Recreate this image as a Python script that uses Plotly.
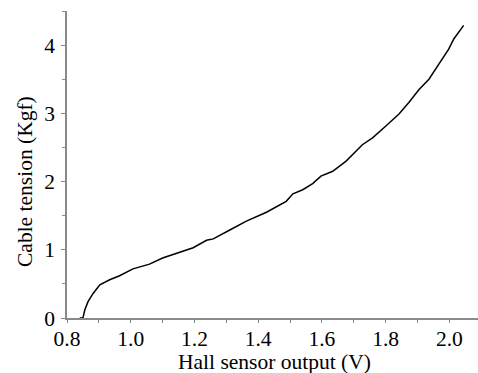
import plotly.graph_objects as go

hall_v = [0.80, 0.84, 0.85, 0.856, 0.866, 0.882, 0.903, 0.934, 0.965, 1.007, 1.059, 1.10, 1.163,
          1.196, 1.238, 1.259, 1.311, 1.363, 1.426, 1.467, 1.488, 1.509, 1.54, 1.571, 1.597,
          1.634, 1.676, 1.727, 1.759, 1.80, 1.842, 1.873, 1.905, 1.936, 1.967, 1.998, 2.014, 2.045]
tension = [0.0, 0.0, 0.0, 0.12, 0.24, 0.36, 0.485, 0.56, 0.62, 0.72, 0.79, 0.88, 0.985,
           1.03, 1.14, 1.16, 1.29, 1.42, 1.55, 1.66, 1.71, 1.82, 1.88, 1.97, 2.08,
           2.15, 2.30, 2.54, 2.64, 2.81, 2.99, 3.16, 3.35, 3.50, 3.72, 3.94, 4.09, 4.29]

x_ticks = [0.8, 1.0, 1.2, 1.4, 1.6, 1.8, 2.0]
x_labels = ["0.8", "1.0", "1.2", "1.4", "1.6", "1.8", "2.0"]
y_ticks = [0, 1, 2, 3, 4]
x_title = "Hall sensor output (V)"
y_title = "Cable tension (Kgf)"

W, H = 478, 373
fig = go.Figure(go.Scatter(x=hall_v[1:], y=tension[1:], mode="lines",
                           line=dict(color="black", width=1.5), cliponaxis=False))

font = dict(family="Liberation Serif", size=21.5, color="black")
axcol = "#8a8a8a"
fig.update_layout(
    width=W, height=H,
    margin=dict(l=67, r=0, t=11, b=55),
    paper_bgcolor="white", plot_bgcolor="white",
    showlegend=False,
    font=font,
)
fig.update_xaxes(range=[0.8, 2.09], tickvals=x_ticks, ticktext=x_labels,
                 showgrid=False, zeroline=False, showline=True, linecolor=axcol, linewidth=1.5,
                 ticks="outside", ticklen=3, tickcolor=axcol, tickwidth=1,
                 minor=dict(dtick=0.1, tick0=0.8, ticks="outside", ticklen=3, tickcolor=axcol, showgrid=False),
                 ticklabelstandoff=-3, tickfont=font)
fig.update_yaxes(range=[0, 4.5], tickvals=y_ticks,
                 showgrid=False, zeroline=False, showline=True, linecolor=axcol, linewidth=1.5,
                 ticks="outside", ticklen=4, tickcolor=axcol, tickwidth=1,
                 minor=dict(dtick=0.5, tick0=0, ticks="outside", ticklen=3, tickcolor=axcol, showgrid=False),
                 ticklabelstandoff=2, tickfont=font)

fig.add_annotation(text=x_title, xref="paper", yref="paper",
                   x=(274.5 - 67) / (W - 67), y=-(362 - 318) / (318 - 11),
                   xanchor="center", yanchor="middle", showarrow=False, font=font)
fig.add_annotation(text=y_title, xref="paper", yref="paper", textangle=-90,
                   x=-(67 - 25) / (W - 67), y=(318 - 182) / (318 - 11),
                   xanchor="center", yanchor="middle", showarrow=False, font=font)

fig.write_html("out.html", config={"displayModeBar": False},
               post_script="document.body.style.margin='0';document.body.style.overflow='hidden';")
